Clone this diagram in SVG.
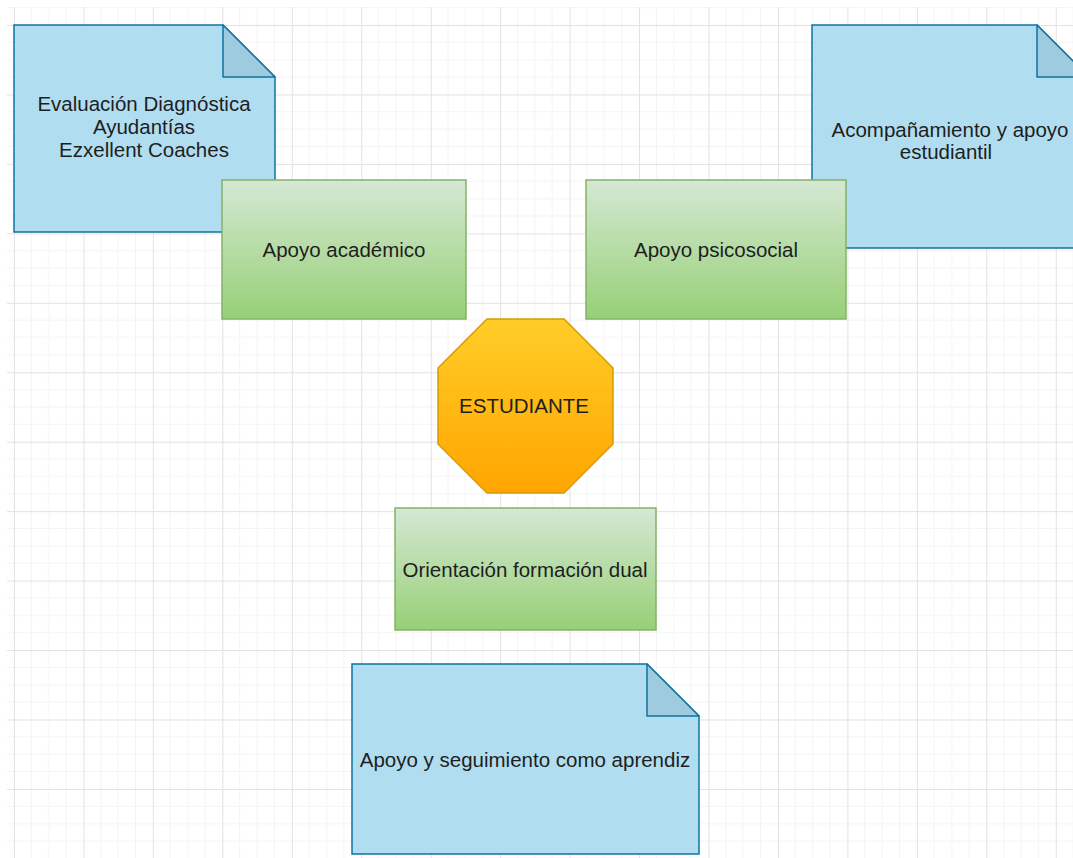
<svg xmlns="http://www.w3.org/2000/svg" width="1073" height="858" viewBox="0 0 1073 858">
  <defs>
    <pattern id="grid" patternUnits="userSpaceOnUse" x="14" y="25" width="69.45" height="69.45">
      <path d="M17.36 0V69.45M34.72 0V69.45M52.09 0V69.45M0 17.36H69.45M0 34.72H69.45M0 52.09H69.45" stroke="#f4f4f4" stroke-width="1" fill="none"/>
      <path d="M0.5 0V69.45M0 0.5H69.45" stroke="#e2e2e2" stroke-width="1" fill="none"/>
    </pattern>
    <linearGradient id="gGreen" x1="0" y1="0" x2="0" y2="1">
      <stop offset="0" stop-color="#d5e8d4"/>
      <stop offset="1" stop-color="#97d077"/>
    </linearGradient>
    <linearGradient id="gOrange" x1="0" y1="0" x2="0" y2="1">
      <stop offset="0" stop-color="#ffcd28"/>
      <stop offset="1" stop-color="#ffa500"/>
    </linearGradient>
    <style>
      .note { fill: #b1ddf0; stroke: #10739e; stroke-width: 1.5; }
      .fold { fill: #9fcbe0; stroke: #10739e; stroke-width: 1.5; stroke-linejoin: round; }
      .box { fill: url(#gGreen); stroke: #82b366; stroke-width: 1.5; }
      .oct { fill: url(#gOrange); stroke: #d79b00; stroke-width: 1.5; }
      .lbl { font-family: "Liberation Sans", Arial, sans-serif; font-size: 20.5px; fill: #1e1e1e; text-anchor: middle; }
    </style>
  </defs>

  <rect x="0" y="0" width="1073" height="858" fill="#ffffff"/>
  <rect x="7" y="7" width="1066" height="851" fill="url(#grid)"/>

  <g id="connectors"></g>

  <g id="note-academico">
    <path class="note" d="M14 25H223L275 77V232H14Z"/>
    <path class="fold" d="M223 25V77H275Z"/>
    <text class="lbl" x="144" y="111">Evaluación Diagnóstica</text>
    <text class="lbl" x="144" y="134">Ayudantías</text>
    <text class="lbl" x="144" y="157">Ezxellent Coaches</text>
  </g>

  <g id="note-psicosocial">
    <path class="note" d="M812 25H1037L1089 77V248H812Z"/>
    <path class="fold" d="M1037 25V77H1089Z"/>
    <text class="lbl" x="950" y="137">Acompañamiento y apoyo</text>
    <text class="lbl" x="946" y="159">estudiantil</text>
  </g>

  <g id="note-dual">
    <path class="note" d="M352 664H647L699 716V854H352Z"/>
    <path class="fold" d="M647 664V716H699Z"/>
    <text class="lbl" x="525" y="767">Apoyo y seguimiento como aprendiz</text>
  </g>

  <g id="apoyo-academico">
    <rect class="box" x="222" y="180" width="244" height="139"/>
    <text class="lbl" x="344" y="257">Apoyo académico</text>
  </g>

  <g id="apoyo-psicosocial">
    <rect class="box" x="586" y="180" width="260" height="139"/>
    <text class="lbl" x="716" y="257">Apoyo psicosocial</text>
  </g>

  <g id="estudiante">
    <polygon class="oct" points="487,319 564,319 613,368 613,444 564,493 487,493 438,444 438,368"/>
    <text class="lbl" x="524" y="413">ESTUDIANTE</text>
  </g>

  <g id="orientacion-dual">
    <rect class="box" x="395" y="508" width="261" height="122"/>
    <text class="lbl" x="525" y="577">Orientación formación dual</text>
  </g>
</svg>
